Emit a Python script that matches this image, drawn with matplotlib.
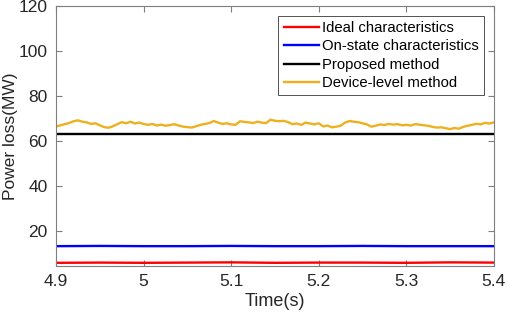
import numpy as np
import matplotlib
matplotlib.use("Agg")
import matplotlib.pyplot as plt

plt.rcParams['font.family'] = ['Liberation Sans', 'DejaVu Sans']

t_start, t_step = 4.9, 0.005
device_level = [66.5, 67.0, 67.5, 68.0, 68.8, 69.2, 68.6, 68.3, 67.6, 67.9,
                67.0, 66.2, 65.9, 66.6, 67.5, 68.4, 67.9, 68.6, 67.8, 68.2,
                67.6, 67.2, 67.6, 66.9, 67.3, 66.8, 67.1, 67.5, 66.9, 66.4,
                66.2, 66.0, 66.6, 67.2, 67.6, 68.0, 68.9, 68.2, 67.6, 67.9,
                67.4, 67.2, 68.8, 68.5, 68.3, 68.0, 68.6, 68.2, 68.0, 69.5,
                69.0, 68.8, 69.0, 68.4, 67.5, 67.8, 67.2, 68.2, 67.8, 67.4,
                67.9, 66.5, 66.9, 66.1, 66.4, 66.8, 68.2, 68.9, 68.6, 68.4,
                67.9, 67.4, 66.4, 66.8, 67.4, 67.1, 67.6, 67.3, 67.5, 67.0,
                67.2, 66.9, 67.5, 67.3, 67.0, 66.8, 66.3, 66.0, 66.1, 65.7,
                65.3, 65.8, 65.5, 66.3, 66.8, 67.2, 67.7, 67.4, 68.1, 67.8,
                68.3]
ideal = [5.9, 6.0, 5.9, 6.0, 6.1, 5.9, 6.0, 6.0, 5.9, 6.1, 6.0]
on_state = [13.3, 13.4, 13.3, 13.3, 13.4, 13.3, 13.3, 13.4, 13.3, 13.3, 13.3]
proposed = [63.3, 63.3]

labels = ['Ideal characteristics', 'On-state characteristics',
          'Proposed method', 'Device-level method']
xticks = [4.9, 5.0, 5.1, 5.2, 5.3, 5.4]
xticklabels = ['4.9', '5', '5.1', '5.2', '5.3', '5.4']
yticks = [20, 40, 60, 80, 100, 120]

t_dev = t_start + t_step * np.arange(len(device_level))
t_ideal = np.linspace(4.9, 5.4, len(ideal))
t_on = np.linspace(4.9, 5.4, len(on_state))
t_prop = np.linspace(4.9, 5.4, len(proposed))

fig = plt.figure(figsize=(5.05, 3.17), dpi=100)
ax = fig.add_axes([0.111, 0.161, 0.867, 0.820])

ax.plot(t_ideal, ideal, color='#ff0000', lw=1.7, label=labels[0])
ax.plot(t_on, on_state, color='#0000ff', lw=1.7, label=labels[1])
ax.plot(t_prop, proposed, color='#000000', lw=1.7, label=labels[2])
ax.plot(t_dev, device_level, color='#EDB120', lw=1.7, label=labels[3])

ax.set_xlim(4.9, 5.4)
ax.set_ylim(4.5, 120)
ax.set_xticks(xticks)
ax.set_xticklabels(xticklabels)
ax.set_yticks(yticks)

grey = '#7f7f7f'
for s in ax.spines.values():
    s.set_color(grey)
    s.set_linewidth(0.8)
ax.tick_params(direction='in', length=4, width=0.8, color=grey,
               labelsize=12.5, labelcolor='#262626', top=True, right=True, pad=6)

ax.set_xlabel('Time(s)', fontsize=13, color='#262626', labelpad=3)
ax.set_ylabel('Power loss(MW)', fontsize=12.5, color='#262626')
ax.yaxis.set_label_coords(-0.088, 0.5)

leg = ax.legend(loc='upper right', fontsize=10.7, frameon=True, fancybox=False,
                edgecolor='#262626', handlelength=2.4, handletextpad=0.2,
                borderpad=0.35, labelspacing=0.3, borderaxespad=0.65)
leg.get_frame().set_linewidth(0.7)

fig.savefig('out.png', dpi=100)
